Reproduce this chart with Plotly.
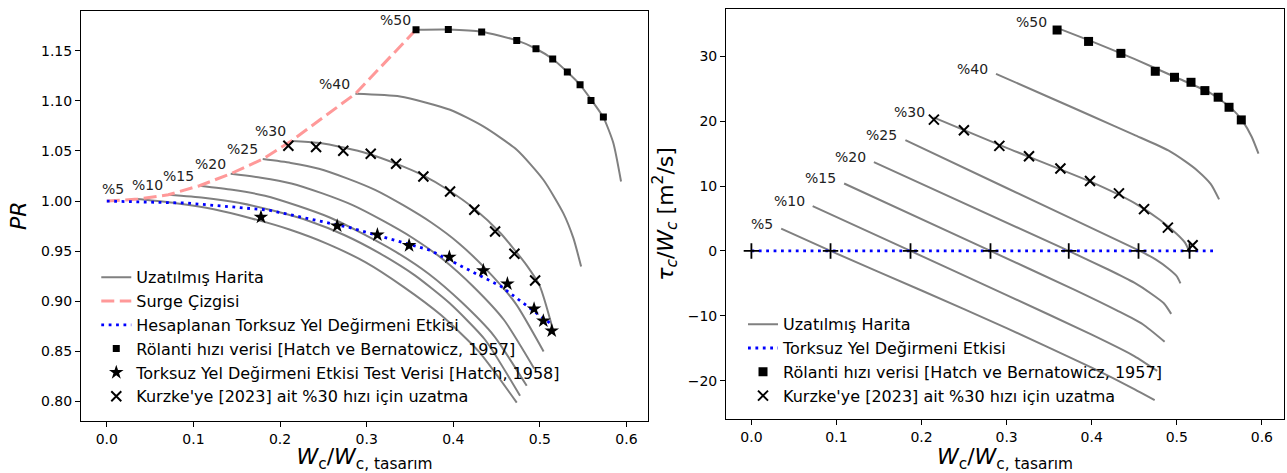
import plotly.graph_objects as go

# hız etiketleri
speed_labels = ["%5", "%10", "%15", "%20", "%25", "%30", "%40", "%50"]

# ---------------- sol grafik: PR - Wc/Wc,tasarım ----------------
wc_05 = [0.036, 0.0797, 0.1235, 0.1672, 0.2109, 0.2547, 0.2984, 0.3421, 0.3858, 0.4296, 0.4733]
pr_05 = [1.002, 0.9979, 0.9919, 0.9827, 0.9716, 0.9573, 0.9391, 0.9147, 0.8863, 0.8498, 0.799]
wc_10 = [0.071, 0.1116, 0.1522, 0.1928, 0.2334, 0.2741, 0.3147, 0.3553, 0.3959, 0.4365, 0.4771]
pr_10 = [1.0063, 1.0033, 0.9983, 0.9903, 0.9802, 0.9662, 0.9481, 0.9261, 0.8980, 0.8619, 0.8057]
wc_15 = [0.107, 0.1448, 0.1826, 0.2203, 0.2581, 0.2959, 0.3337, 0.3715, 0.4092, 0.4470, 0.4848]
pr_15 = [1.0153, 1.0113, 1.0053, 0.9953, 0.9834, 0.9674, 0.9494, 0.9275, 0.8995, 0.8656, 0.8157]
wc_20 = [0.143, 0.1780, 0.2131, 0.2481, 0.2832, 0.3182, 0.3532, 0.3883, 0.4233, 0.4584, 0.4934]
pr_20 = [1.0273, 1.0234, 1.0176, 1.0079, 0.9962, 0.9807, 0.9632, 0.9418, 0.9146, 0.8816, 0.8330]
wc_25 = [0.180, 0.2124, 0.2449, 0.2773, 0.3097, 0.3422, 0.3746, 0.4070, 0.4394, 0.4719, 0.5043]
pr_25 = [1.0419, 1.0381, 1.0323, 1.0227, 1.0112, 0.9959, 0.9786, 0.9575, 0.9306, 0.8980, 0.8500]
wc_30 = [0.213, 0.2432, 0.2734, 0.3036, 0.3338, 0.364, 0.3942, 0.4244, 0.4546, 0.4848, 0.4999, 0.515]
pr_30 = [1.060, 1.0581, 1.0534, 1.0468, 1.0374, 1.0262, 1.0111, 0.9923, 0.9679, 0.9359, 0.9152, 0.872]
wc_40 = [0.287, 0.3386, 0.3963, 0.4347, 0.4733, 0.504, 0.527, 0.5387, 0.5476]
pr_40 = [1.1071, 1.1044, 1.0911, 1.0745, 1.0512, 1.0213, 0.988, 0.963, 0.9347]
wc_50 = [0.357, 0.3943, 0.4328, 0.4733, 0.4955, 0.5148, 0.5317, 0.5464, 0.559, 0.5733, 0.5848, 0.5937]
pr_50 = [1.171, 1.1712, 1.169, 1.1603, 1.152, 1.1417, 1.1287, 1.116, 1.1015, 1.0835, 1.058, 1.0196]

surge_wc = [0.0, 0.036, 0.071, 0.107, 0.143, 0.180, 0.213, 0.287, 0.357]
surge_pr = [1.0, 1.002, 1.0063, 1.0153, 1.0273, 1.0419, 1.060, 1.1071, 1.171]

windmill_wc = [0.0, 0.093, 0.187, 0.281, 0.373, 0.455, 0.515]
windmill_pr = [1.0, 0.998, 0.991, 0.9735, 0.951, 0.915, 0.876]

idle_wc = [0.357, 0.3943, 0.4328, 0.4733, 0.4955, 0.5148, 0.5317, 0.5464, 0.559, 0.5733]
idle_pr = [1.171, 1.1712, 1.1687, 1.1603, 1.152, 1.1417, 1.1287, 1.116, 1.1004, 1.0838]

test_wc = [0.178, 0.266, 0.3124, 0.349, 0.3955, 0.4347, 0.4625, 0.4933, 0.504, 0.5137]
test_pr = [0.984, 0.9753, 0.9664, 0.9557, 0.9441, 0.9307, 0.9175, 0.8925, 0.8805, 0.8706]

kurzke_wc = [0.2096, 0.2416, 0.273, 0.3047, 0.334, 0.3655, 0.3963, 0.4243, 0.4483, 0.4706, 0.4945]
kurzke_pr = [1.0552, 1.0539, 1.0502, 1.0472, 1.0372, 1.0246, 1.0096, 0.9913, 0.9697, 0.9474, 0.9208]

# ---------------- sağ grafik: tau/Wc - Wc/Wc,tasarım ----------------
tw_wc_05 = [0.035, 0.093, 0.2, 0.3, 0.4, 0.45, 0.474]
tw_05 = [3.45, 0.0, -6.1, -11.9, -18.0, -21.3, -23.0]
tw_wc_10 = [0.072, 0.187, 0.3, 0.4, 0.45, 0.477]
tw_10 = [6.9, 0.0, -6.8, -12.9, -16.2, -18.5]
tw_wc_15 = [0.109, 0.281, 0.38, 0.43, 0.46, 0.4857]
tw_15 = [10.4, 0.0, -6.0, -9.2, -11.3, -14.0]
tw_wc_20 = [0.144, 0.373, 0.42, 0.45, 0.47, 0.485, 0.4934]
tw_20 = [13.7, 0.0, -2.9, -4.9, -6.6, -8.1, -9.7]
tw_wc_25 = [0.181, 0.30, 0.4565, 0.475, 0.49, 0.5, 0.5043]
tw_25 = [17.1, 9.7, 0.0, -1.3, -2.7, -3.9, -5.0]
tw_wc_30 = [0.214, 0.30, 0.40, 0.45, 0.48, 0.50, 0.51, 0.515]
tw_30 = [20.6, 15.9, 10.6, 7.4, 4.8, 2.6, 1.2, -0.2]
tw_wc_40 = [0.2875, 0.35, 0.40, 0.45, 0.49, 0.51, 0.525, 0.54, 0.5497]
tw_40 = [27.3, 23.7, 20.8, 17.9, 15.5, 13.8, 12.3, 10.3, 7.95]
tw_wc_50 = [0.357, 0.40, 0.45, 0.50, 0.54, 0.565, 0.578, 0.588, 0.596]
tw_50 = [34.5, 32.3, 29.6, 26.7, 24.3, 21.9, 19.9, 17.6, 15.0]

zero_wc = [0.0, 0.543]
zero_tw = [0.0, 0.0]
cross_wc = [0.0, 0.093, 0.187, 0.281, 0.373, 0.455, 0.515]
cross_tw = [0, 0, 0, 0, 0, 0, 0]

idle_tw_wc = [0.3593, 0.3963, 0.4343, 0.4747, 0.4973, 0.5167, 0.533, 0.5486, 0.5614, 0.5758]
idle_tw = [34.06, 32.3, 30.46, 27.7, 26.77, 26.0, 24.72, 23.7, 22.15, 20.2]

kurzke_tw_wc = [0.2145, 0.2498, 0.2914, 0.3263, 0.3632, 0.398, 0.432, 0.4615, 0.4895, 0.5186]
kurzke_tw = [20.25, 18.6, 16.2, 14.6, 12.7, 10.77, 8.87, 6.45, 3.6, 0.88]

pr_lines = [(wc_05, pr_05), (wc_10, pr_10), (wc_15, pr_15), (wc_20, pr_20),
            (wc_25, pr_25), (wc_30, pr_30), (wc_40, pr_40), (wc_50, pr_50)]
tw_lines = [(tw_wc_05, tw_05), (tw_wc_10, tw_10), (tw_wc_15, tw_15), (tw_wc_20, tw_20),
            (tw_wc_25, tw_25), (tw_wc_30, tw_30), (tw_wc_40, tw_40), (tw_wc_50, tw_50)]

FONT = "DejaVu Sans"
GRAY = "#808080"

fig = go.Figure()

# sol grafik
for i, (wx, wy) in enumerate(pr_lines):
    fig.add_trace(go.Scatter(x=wx, y=wy, mode="lines", name="Uzatılmış Harita",
                             line=dict(color=GRAY, width=2, shape="spline", smoothing=0.6),
                             legendgroup="map1", showlegend=(i == 0), legend="legend",
                             xaxis="x", yaxis="y"))
fig.add_trace(go.Scatter(x=surge_wc, y=surge_pr, mode="lines", name="Surge Çizgisi",
                         line=dict(color="#ff9999", width=3, dash="13px,5.5px"),
                         legend="legend", xaxis="x", yaxis="y"))
fig.add_trace(go.Scatter(x=windmill_wc, y=windmill_pr, mode="lines",
                         name="Hesaplanan Torksuz Yel Değirmeni Etkisi",
                         line=dict(color="#0000ff", width=2.8, dash="2.8px,4.6px"),
                         legend="legend", xaxis="x", yaxis="y"))
fig.add_trace(go.Scatter(x=idle_wc, y=idle_pr, mode="markers",
                         name="Rölanti hızı verisi [Hatch ve Bernatowicz, 1957]",
                         marker=dict(symbol="square", size=7, color="black"),
                         legend="legend", xaxis="x", yaxis="y"))
fig.add_trace(go.Scatter(x=test_wc, y=test_pr, mode="markers",
                         name="Torksuz Yel Değirmeni Etkisi Test Verisi [Hatch, 1958]",
                         marker=dict(symbol="star", size=11, color="black"),
                         legend="legend", xaxis="x", yaxis="y"))
fig.add_trace(go.Scatter(x=kurzke_wc, y=kurzke_pr, mode="markers",
                         name="Kurzke'ye [2023] ait %30 hızı için uzatma",
                         marker=dict(symbol="x-thin", size=10, color="black",
                                     line=dict(color="black", width=2)),
                         legend="legend", xaxis="x", yaxis="y"))

# sağ grafik
for i, (wx, wy) in enumerate(tw_lines):
    fig.add_trace(go.Scatter(x=wx, y=wy, mode="lines", name="Uzatılmış Harita",
                             line=dict(color=GRAY, width=2, shape="spline", smoothing=0.6),
                             legendgroup="map2", showlegend=(i == 0), legend="legend2",
                             xaxis="x2", yaxis="y2"))
fig.add_trace(go.Scatter(x=zero_wc, y=zero_tw, mode="lines", name="Torksuz Yel Değirmeni Etkisi",
                         line=dict(color="#0000ff", width=2.8, dash="2.8px,4.6px"),
                         legend="legend2", xaxis="x2", yaxis="y2"))
fig.add_trace(go.Scatter(x=cross_wc, y=cross_tw, mode="markers", showlegend=False,
                         marker=dict(symbol="cross-thin", size=11, color="black",
                                     line=dict(color="black", width=1.8)),
                         xaxis="x2", yaxis="y2"))
fig.add_trace(go.Scatter(x=idle_tw_wc, y=idle_tw, mode="markers",
                         name="Rölanti hızı verisi [Hatch ve Bernatowicz, 1957]",
                         marker=dict(symbol="square", size=9, color="black"),
                         legend="legend2", xaxis="x2", yaxis="y2"))
fig.add_trace(go.Scatter(x=kurzke_tw_wc, y=kurzke_tw, mode="markers",
                         name="Kurzke'ye [2023] ait %30 hızı için uzatma",
                         marker=dict(symbol="x-thin", size=10, color="black",
                                     line=dict(color="black", width=2)),
                         legend="legend2", xaxis="x2", yaxis="y2"))

# hız etiketleri
for i, lab in enumerate(speed_labels):
    wx, wy = pr_lines[i]
    fig.add_annotation(x=wx[0], y=wy[0], xref="x", yref="y", text=lab, showarrow=False,
                       xanchor="right", yanchor="middle", xshift=(-12 if i == 0 else -3), yshift=10,
                       font=dict(size=14, color="#222"))
    wx, wy = tw_lines[i]
    fig.add_annotation(x=wx[0], y=wy[0], xref="x2", yref="y2", text=lab, showarrow=False,
                       xanchor="right", yanchor="middle", xshift=-6, yshift=5,
                       font=dict(size=14, color="#222"))

axis_style = dict(showline=True, mirror=True, linecolor="black", linewidth=1,
                  ticks="outside", ticklen=5, tickwidth=1, tickcolor="black",
                  showgrid=False, zeroline=False, tickfont=dict(size=14))

xtitle = "<i>W</i><sub>c</sub>/<i>W</i><sub>c, tasarım</sub>"

fig.update_layout(
    width=1287, height=473,
    margin=dict(l=81, r=3, t=9, b=52),
    plot_bgcolor="white", paper_bgcolor="white",
    font=dict(family=FONT, size=14, color="black"),
    xaxis=dict(domain=[0, 0.4713], range=[-0.0298, 0.6248], dtick=0.1, tickformat=".1f",
               anchor="y", title=dict(text=xtitle, font=dict(size=22), standoff=6), **axis_style),
    yaxis=dict(domain=[0, 0.996], range=[0.7806, 1.190], dtick=0.05, tickformat=".2f",
               anchor="x", title=dict(text="<i>PR</i>", font=dict(size=22), standoff=8), **axis_style),
    xaxis2=dict(domain=[0.5362, 1], range=[-0.0298, 0.626], dtick=0.1, tickformat=".1f",
                anchor="y2", title=dict(text=xtitle, font=dict(size=22), standoff=6), **axis_style),
    yaxis2=dict(domain=[0.005, 1], range=[-25.9, 37.3], dtick=10,
                anchor="x2",
                title=dict(text="<i>τ</i><sub><i>c</i></sub>/<i>W</i><sub><i>c</i></sub> [m<sup>2</sup>/s]",
                           font=dict(size=22), standoff=8), **axis_style),
    legend=dict(x=0.0127, y=0.39, xanchor="left", yanchor="top", bgcolor="rgba(0,0,0,0)",
                font=dict(size=16), tracegroupgap=0),
    legend2=dict(x=0.5503, y=0.276, xanchor="left", yanchor="top", bgcolor="rgba(0,0,0,0)",
                 font=dict(size=16), tracegroupgap=0),
)

fig.write_html("out.html", config={"displayModeBar": False},
               post_script="document.body.style.margin='0';")
